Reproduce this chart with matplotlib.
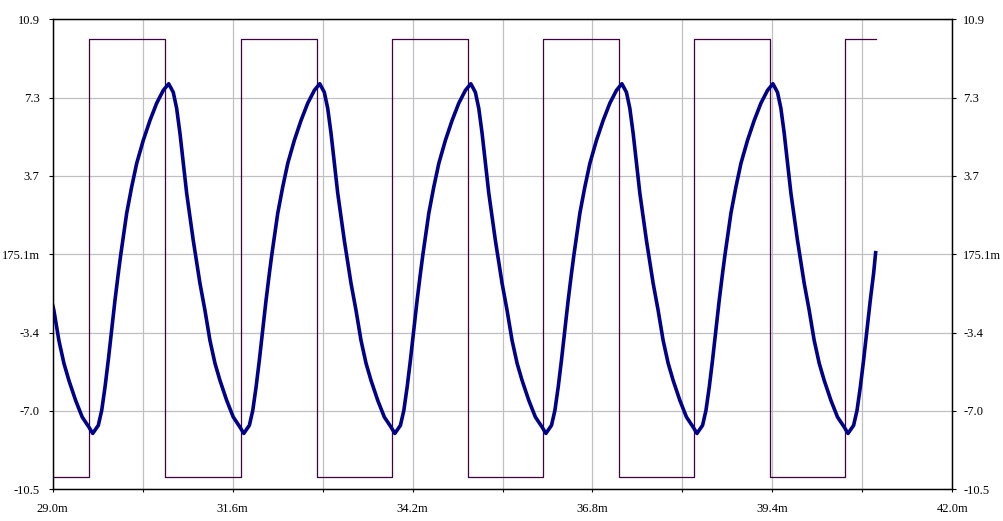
import matplotlib
matplotlib.use("Agg")
import matplotlib.pyplot as plt

# x values in ms
x_major = [29.0, 31.6, 34.2, 36.8, 39.4, 42.0]
x_labels = ["29.0m", "31.6m", "34.2m", "36.8m", "39.4m", "42.0m"]
x_minor = [30.3, 32.9, 35.5, 38.1, 40.7]

y_ticks = [-10.55, -6.975, -3.4, 0.175, 3.75, 7.325, 10.9]
y_labels = ["-10.5", "-7.0", "-3.4", "175.1m", "3.7", "7.3", "10.9"]

# square wave (step edges, held until next time)
sq_t = [29.0, 29.529, 30.626, 31.716, 32.818, 33.901, 34.999, 36.082,
        37.180, 38.264, 39.362, 40.449, 40.892]
sq_v = [-10, 10, -10, 10, -10, 10, -10, 10, -10, 10, -10, 10, 10]

# filtered response
resp_t = [29.0, 29.017, 29.089, 29.162, 29.234, 29.331, 29.426, 29.523,
          29.578, 29.659, 29.708, 29.756, 29.803, 29.852, 29.900, 29.948, 29.982,
          30.069, 30.141, 30.214, 30.309, 30.406, 30.502, 30.598, 30.676,
          30.742, 30.791, 30.839, 30.887, 30.936, 30.983, 31.031, 31.080,
          31.128, 31.200, 31.272, 31.345, 31.417, 31.514, 31.609, 31.706,
          31.761, 31.842, 31.891, 31.939, 31.986, 32.035, 32.083, 32.131, 32.165,
          32.252, 32.324, 32.397, 32.492, 32.589, 32.685, 32.781, 32.859,
          32.925, 32.974, 33.022, 33.070, 33.119, 33.166, 33.214, 33.263,
          33.311, 33.383, 33.455, 33.528, 33.600, 33.697, 33.792, 33.889,
          33.944, 34.025, 34.074, 34.122, 34.169, 34.218, 34.266, 34.314, 34.348,
          34.435, 34.507, 34.580, 34.675, 34.772, 34.868, 34.964, 35.042,
          35.108, 35.157, 35.205, 35.253, 35.302, 35.349, 35.397, 35.446,
          35.494, 35.566, 35.638, 35.711, 35.783, 35.880, 35.975, 36.072,
          36.127, 36.208, 36.257, 36.305, 36.352, 36.401, 36.449, 36.497, 36.531,
          36.618, 36.690, 36.763, 36.858, 36.955, 37.051, 37.147, 37.225,
          37.291, 37.340, 37.388, 37.436, 37.485, 37.532, 37.580, 37.629,
          37.677, 37.749, 37.821, 37.894, 37.966, 38.063, 38.158, 38.255,
          38.310, 38.391, 38.440, 38.488, 38.535, 38.584, 38.632, 38.680, 38.714,
          38.801, 38.873, 38.946, 39.041, 39.138, 39.234, 39.330, 39.408,
          39.474, 39.523, 39.571, 39.619, 39.668, 39.715, 39.763, 39.812,
          39.860, 39.932, 40.004, 40.077, 40.149, 40.246, 40.341, 40.438,
          40.493, 40.574, 40.623, 40.671, 40.718, 40.767, 40.815, 40.863, 40.892]
resp_v = [-2.15, -2.38, -3.75, -4.80, -5.58, -6.49, -7.25, -7.71,
          -8.00, -7.63, -6.95, -5.88, -4.66, -3.29, -1.92, -0.69, 0.13,
          2.05, 3.25, 4.33, 5.38, 6.29, 7.07, 7.66, 7.96,
          7.57, 6.84, 5.70, 4.33, 2.96, 1.88, 0.81, -0.19,
          -1.15, -2.38, -3.75, -4.80, -5.58, -6.49, -7.25, -7.71,
          -8.00, -7.63, -6.95, -5.88, -4.66, -3.29, -1.92, -0.69, 0.13,
          2.05, 3.25, 4.33, 5.38, 6.29, 7.07, 7.66, 7.96,
          7.57, 6.84, 5.70, 4.33, 2.96, 1.88, 0.81, -0.19,
          -1.15, -2.38, -3.75, -4.80, -5.58, -6.49, -7.25, -7.71,
          -8.00, -7.63, -6.95, -5.88, -4.66, -3.29, -1.92, -0.69, 0.13,
          2.05, 3.25, 4.33, 5.38, 6.29, 7.07, 7.66, 7.96,
          7.57, 6.84, 5.70, 4.33, 2.96, 1.88, 0.81, -0.19,
          -1.15, -2.38, -3.75, -4.80, -5.58, -6.49, -7.25, -7.71,
          -8.00, -7.63, -6.95, -5.88, -4.66, -3.29, -1.92, -0.69, 0.13,
          2.05, 3.25, 4.33, 5.38, 6.29, 7.07, 7.66, 7.96,
          7.57, 6.84, 5.70, 4.33, 2.96, 1.88, 0.81, -0.19,
          -1.15, -2.38, -3.75, -4.80, -5.58, -6.49, -7.25, -7.71,
          -8.00, -7.63, -6.95, -5.88, -4.66, -3.29, -1.92, -0.69, 0.13,
          2.05, 3.25, 4.33, 5.38, 6.29, 7.07, 7.66, 7.96,
          7.57, 6.84, 5.70, 4.33, 2.96, 1.88, 0.81, -0.19,
          -1.15, -2.38, -3.75, -4.80, -5.58, -6.49, -7.25, -7.71,
          -8.00, -7.63, -6.95, -5.88, -4.66, -3.29, -1.92, -0.69, 0.25]

plt.rcParams['font.family'] = ['Liberation Serif', 'DejaVu Serif']

fig = plt.figure(figsize=(10.04, 5.21), dpi=100)
ax = fig.add_axes([0.0525, 0.0608, 0.896, 0.9021])

ax.plot(sq_t, sq_v, color='#400040', lw=0.9, drawstyle='steps-post', zorder=3)
ax.plot(resp_t, resp_v, color='#00008b', lw=2.6, zorder=4)

ax.set_xlim(29.0, 42.0)
ax.set_ylim(-10.55, 10.9)
ax.set_xticks(x_major)
ax.set_xticklabels(x_labels)
ax.set_xticks(x_minor, minor=True)
ax.set_yticks(y_ticks)
ax.set_yticklabels(y_labels)
ax.grid(True, which='both', color='#c0c0c0', lw=0.9, zorder=0)
ax.set_axisbelow(True)

ax.tick_params(axis='x', which='both', length=2.5, width=0.8, pad=7, labelsize=9)
ax.tick_params(axis='y', length=3, width=0.8, pad=6.5, labelsize=9)

ax2 = ax.twinx()
ax2.set_ylim(ax.get_ylim())
ax2.set_yticks(y_ticks)
ax2.set_yticklabels(y_labels)
ax2.tick_params(axis='y', length=3, width=0.8, pad=5, labelsize=9)

for a in (ax, ax2):
    for s in a.spines.values():
        s.set_color('black')
        s.set_linewidth(0.9)

fig.savefig('out.png', dpi=100)
